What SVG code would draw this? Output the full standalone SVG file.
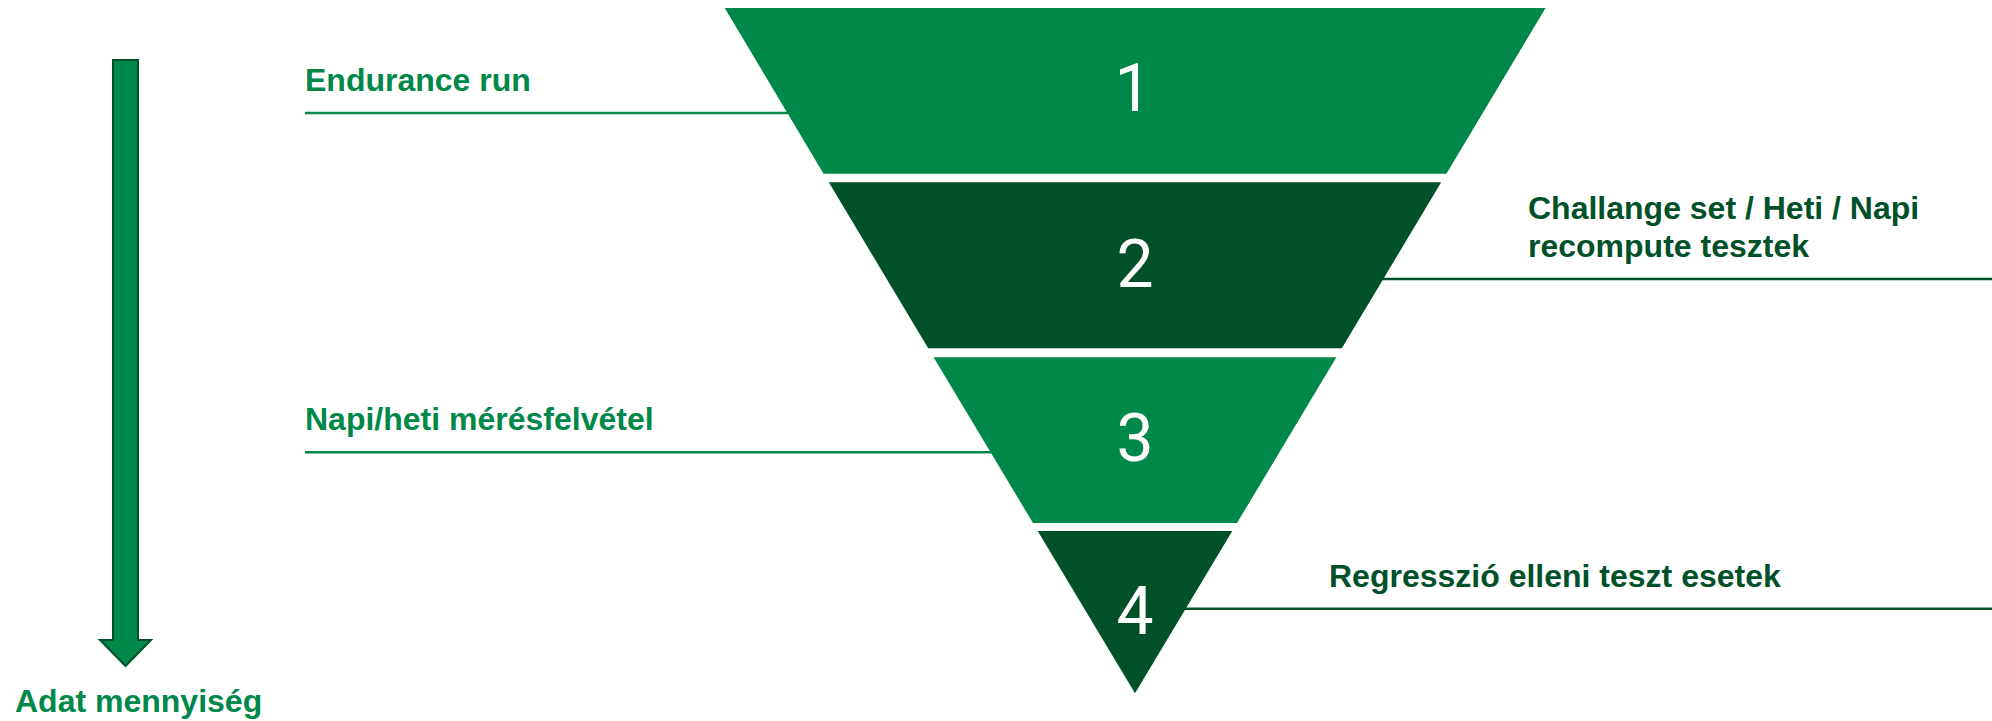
<svg xmlns="http://www.w3.org/2000/svg" width="1992" height="721" viewBox="0 0 1992 721">
<style>
.lg{fill:#00884A}
.dg{fill:#00512A}
.num{fill:#FFFFFF;font-family:Roboto,"Liberation Sans",sans-serif;font-weight:400;font-size:66px;text-anchor:middle}
.lbl{font-family:"Liberation Sans",Arial,sans-serif;font-weight:bold;font-size:32px}
.ll{stroke:#00884A;stroke-width:2.6;fill:none}
.ld{stroke:#00512A;stroke-width:2.6;fill:none}
</style>
<rect width="1992" height="721" fill="#FFFFFF"/>
<g id="connectors">
<line class="ll" x1="305" y1="113" x2="800" y2="113"/>
<line class="ld" x1="1370" y1="279" x2="1992" y2="279"/>
<line class="ll" x1="305" y1="452.3" x2="1000" y2="452.3"/>
<line class="ld" x1="1175" y1="608.7" x2="1992" y2="608.7"/>
</g>
<g id="layer1">
<polygon class="lg" points="724.7,8 1545.6,8 1446.4,173.7 823.6,173.7"/>
<text class="num" x="1133" y="111">1</text>
</g>
<g id="layer2">
<polygon class="dg" points="828.8,182.3 1441.2,182.3 1341.8,348.3 928.2,348.3"/>
<text class="num" x="1135" y="286.5">2</text>
</g>
<g id="layer3">
<polygon class="lg" points="933.6,357.3 1336.4,357.3 1237,523 1033,523"/>
<text class="num" x="1135" y="461">3</text>
</g>
<g id="layer4">
<polygon class="dg" points="1037.7,531 1232.3,531 1135,693.3"/>
<text class="num" x="1135" y="634.3">4</text>
</g>
<g id="label-endurance">
<text class="lbl lg" x="305" y="91">Endurance run</text>
</g>
<g id="label-challange">
<text class="lbl dg" x="1528" y="219.3">Challange set / Heti / Napi</text>
<text class="lbl dg" x="1528" y="256.7">recompute tesztek</text>
</g>
<g id="label-napi">
<text class="lbl lg" x="305" y="430">Napi/heti mérésfelvétel</text>
</g>
<g id="label-regresszio">
<text class="lbl dg" x="1329" y="587.3">Regresszió elleni teszt esetek</text>
</g>
<g id="axis-arrow">
<path d="M113,60 H138 V640 H151 L125.5,666 L100,640 H113 Z" fill="#00884A" stroke="#00512A" stroke-width="2"/>
<text class="lbl lg" x="15" y="712">Adat mennyiség</text>
</g>
</svg>
